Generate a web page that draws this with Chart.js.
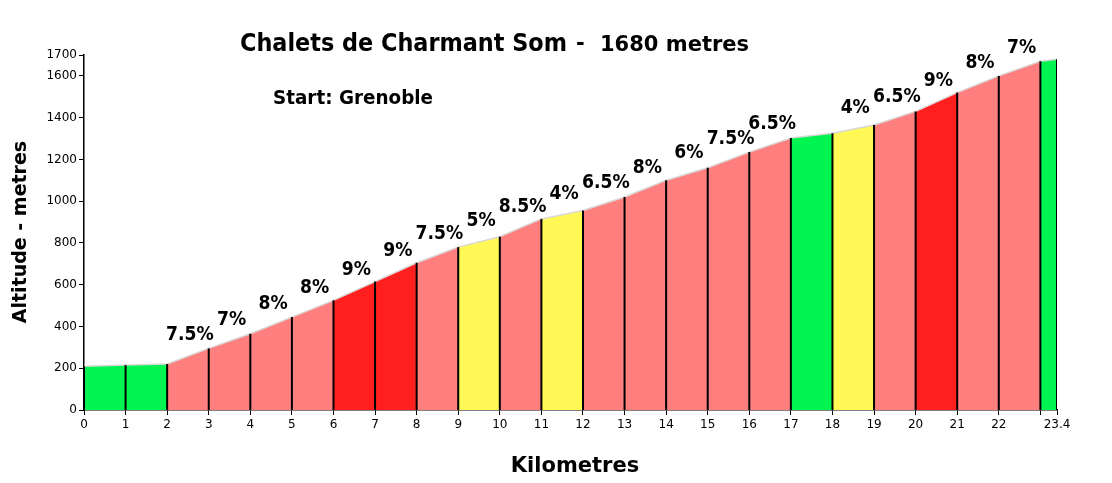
<!DOCTYPE html>
<html>
<head>
<meta charset="utf-8">
<script src="https://cdn.jsdelivr.net/npm/chart.js@4.4.1/dist/chart.umd.min.js"></script>
<style>
    body { margin: 0; background: #fff; }
    #wrap { width: 1112px; height: 483px; }
</style>
</head>
<body>
<div id="wrap"><canvas id="profile"></canvas></div>
<script>
// DATA
const kmPoints = [0, 1, 2, 3, 4, 5, 6, 7, 8, 9, 10, 11, 12, 13, 14, 15, 16, 17, 18, 19, 20, 21, 22, 23, 23.4];
const altitudes = [210, 215, 220, 295, 365, 445, 525, 615, 705, 780, 830, 915, 955, 1020, 1100, 1160, 1235, 1302, 1325, 1365, 1430, 1520, 1600, 1670, 1680];
const segmentColors = [
    '#00f550', '#00f550', '#ff7f7f', '#ff7f7f', '#ff7f7f', '#ff7f7f', '#ff1f1f', '#ff1f1f',
    '#ff7f7f', '#fff855', '#ff7f7f', '#fff855', '#ff7f7f', '#ff7f7f', '#ff7f7f', '#ff7f7f',
    '#ff7f7f', '#00f550', '#fff855', '#ff7f7f', '#ff1f1f', '#ff7f7f', '#ff7f7f', '#00f550'
];
const gradeLabels = [
    '', '', '7.5%', '7%', '8%', '8%', '9%', '9%',
    '7.5%', '5%', '8.5%', '4%', '6.5%', '8%', '6%', '7.5%',
    '6.5%', '', '4%', '6.5%', '9%', '8%', '7%', ''
];
const yTickValues = [0, 200, 400, 600, 800, 1000, 1200, 1400, 1600, 1700];
const xTickValues = [0, 1, 2, 3, 4, 5, 6, 7, 8, 9, 10, 11, 12, 13, 14, 15, 16, 17, 18, 19, 20, 21, 22, 23, 23.4];
const xTickLabels = ['0', '1', '2', '3', '4', '5', '6', '7', '8', '9', '10', '11', '12', '13', '14', '15', '16', '17', '18', '19', '20', '21', '22', '', '23.4'];

const FONT = '"DejaVu Sans", sans-serif';

// one filled dataset per km segment, one black line per km mark
const datasets = [];
kmPoints.forEach((km, i) => {
    datasets.push({
        data: [{x: km, y: 0}, {x: km, y: altitudes[i]}],
        borderColor: '#000',
        borderWidth: 2,
        pointRadius: 0,
        fill: false,
        order: 0
    });
});
segmentColors.forEach((color, i) => {
    datasets.push({
        data: [{x: kmPoints[i], y: altitudes[i]}, {x: kmPoints[i + 1], y: altitudes[i + 1]}],
        backgroundColor: color,
        borderColor: '#d8d8d8',
        borderWidth: 1.5,
        pointRadius: 0,
        tension: 0,
        fill: 'origin',
        order: 1
    });
});

// draw text squeezed to a given width (the original font is narrower)
function fitText(c, text, left, base, width) {
    const w = c.measureText(text).width;
    c.save();
    c.translate(left, base);
    c.scale(Math.min(1, width / w), 1);
    c.fillText(text, 0, 0);
    c.restore();
}

const textPlugin = {
    id: 'textPlugin',
    afterDraw(chart) {
        const c = chart.ctx;
        const x = chart.scales.x;
        const y = chart.scales.y;
        c.save();
        c.fillStyle = '#000';
        c.textBaseline = 'alphabetic';

        // title, two sizes
        c.textAlign = 'left';
        c.font = 'bold 24px ' + FONT;
        fitText(c, 'Chalets de Charmant Som', 240, 51, 327);
        c.font = 'bold 21px ' + FONT;
        fitText(c, '-', 576, 50, 20);
        fitText(c, '1680 metres', 600, 51, 162);

        c.font = 'bold 19px ' + FONT;
        fitText(c, 'Start: Grenoble', 273, 104, 160);

        // axis titles
        c.textAlign = 'center';
        c.font = 'bold 21px ' + FONT;
        c.fillText('Kilometres', 575, 472);
        c.save();
        c.translate(26, 232);
        c.rotate(-Math.PI / 2);
        c.font = 'bold 19px ' + FONT;
        c.fillText('Altitude - metres', 0, 0);
        c.restore();

        // gradient labels over each segment
        c.font = 'bold 20px ' + FONT;
        gradeLabels.forEach((label, i) => {
            if (!label) return;
            const midKm = (kmPoints[i] + kmPoints[i + 1]) / 2;
            const midAlt = (altitudes[i] + altitudes[i + 1]) / 2;
            c.save();
            c.translate(x.getPixelForValue(midKm) + 2, y.getPixelForValue(midAlt) - 16);
            c.scale(0.86, 1);
            c.fillText(label, 0, 0);
            c.restore();
        });
        c.restore();
    }
};

const ctx = document.getElementById('profile').getContext('2d');
const profileChart = new Chart(ctx, {
    type: 'line',
    data: { datasets: datasets },
    options: {
        responsive: true,
        maintainAspectRatio: false,
        animation: false,
        layout: { padding: { top: 55, right: 55, left: 0, bottom: 0 } },
        plugins: {
            legend: { display: false },
            tooltip: { enabled: false }
        },
        scales: {
            x: {
                type: 'linear',
                min: 0,
                max: 23.4,
                afterBuildTicks: (scale) => { scale.ticks = xTickValues.map(v => ({value: v})); },
                afterFit: (scale) => { scale.height = 73; },
                ticks: {
                    autoSkip: false,
                    maxRotation: 0,
                    padding: 3,
                    color: '#000',
                    font: { family: FONT, size: 12 },
                    callback: (value, index) => xTickLabels[index]
                },
                grid: { drawOnChartArea: false, drawTicks: true, tickLength: 5, color: '#000' },
                border: { display: true, color: '#000', width: 1.5 }
            },
            y: {
                type: 'linear',
                min: 0,
                max: 1700,
                afterBuildTicks: (scale) => { scale.ticks = yTickValues.map(v => ({value: v})); },
                afterFit: (scale) => { scale.width = 84; },
                ticks: {
                    autoSkip: false,
                    padding: 2,
                    color: '#000',
                    font: { family: FONT, size: 12 },
                    callback: (value) => String(value)
                },
                grid: { drawOnChartArea: false, drawTicks: true, tickLength: 5, color: '#000' },
                border: { display: true, color: '#000', width: 1.5 }
            }
        }
    },
    plugins: [textPlugin]
});
</script>
</body>
</html>
